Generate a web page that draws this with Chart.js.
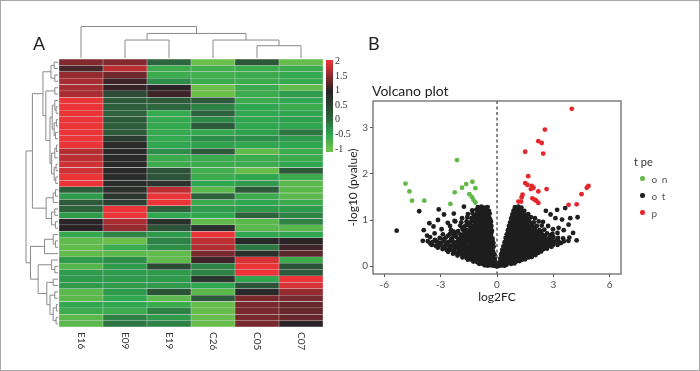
<!DOCTYPE html>
<html>
<head>
<meta charset="utf-8">
<script src="https://cdn.jsdelivr.net/npm/chart.js@4.4.1/dist/chart.umd.min.js"></script>
<style>
html, body { margin: 0; padding: 0; background: #fff; }
#fig { position: relative; width: 700px; height: 371px; overflow: hidden; font-family: Lato, 'Open Sans', sans-serif; }
#frame { position: absolute; left: 0; top: 0; width: 700px; height: 371px; box-sizing: border-box; border: 1px solid #a8a8a8; }
canvas { position: absolute; }
.txt { position: absolute; white-space: nowrap; color: #222; }
#legend { position: absolute; left: 634px; top: 154px; color: #333; }
#legend .ttl { font-size: 11px; height: 16px; line-height: 16px; }
#legend .it { height: 17px; display: flex; align-items: center; }
#legend .dot { width: 4.5px; height: 4.5px; border-radius: 50%; margin-left: 6px; }
#legend .lab { margin-left: 7px; font-size: 10px; letter-spacing: 1px; color: #555; }
</style>
</head>
<body>
<div id="fig">
  <canvas id="heat" width="340" height="371" style="left:0;top:0"></canvas>
  <canvas id="cbar" width="37" height="110" style="left:326px;top:50px"></canvas>
  <canvas id="volcano" width="295" height="216" style="left:330px;top:90px"></canvas>
  <div class="txt" style="left:33px;top:32px;font-size:18px">A</div>
  <div class="txt" style="left:368px;top:32px;font-size:18px">B</div>
  <div class="txt" style="left:372px;top:82px;font-size:14px">Volcano plot</div>
  <div id="legend"></div>
  <div id="frame"></div>
</div>
<script>
// heatmap: one array per sample, rows top to bottom
var samples = ['E16', 'E09', 'E19', 'C26', 'C05', 'C07'];
var e16 = [1.45,1.15,1.55,1.65,1.65,1.65,2,2,2,2,2,2,2,2,1.7,1.75,1.85,1.85,2,2,0.15,-0.4,0.2,0.1,-0.4,1.0,1.0,-0.55,-0.9,-0.9,-0.9,-0.4,-0.8,-0.4,-0.4,-0.4,-0.85,-0.85,-0.5,-0.6,-0.85,-0.85];
var e09 = [1.45,1.75,1.35,1.1,1.05,0.4,0.2,0.15,0.1,0.2,0.15,0.2,0.6,0.9,0.9,0.9,0.9,0.9,0.85,0.85,0.8,0.7,0.55,2,2,1.65,1.55,-0.2,-1.0,-0.6,-0.85,-0.3,-0.4,-0.4,-0.4,-0.4,-0.4,-0.5,-0.5,-0.6,-0.2,-0.1];
var e19 = [0.05,-0.6,-0.6,-0.3,1.0,1.1,0.2,0.05,-0.55,-0.55,-0.55,-0.55,-0.55,-0.5,-0.3,-0.6,-0.6,0.3,0.3,0.75,1.75,2,2,0.1,-0.5,0.8,0.3,-0.4,-0.2,-0.3,-0.9,-0.9,0.4,-0.4,-0.4,-0.4,0.3,-0.85,-0.6,-0.2,-0.4,-0.2];
var c26 = [-1.0,-0.65,-0.65,-0.6,-1.0,-1.0,0.2,-0.2,0.1,-0.25,0.2,-0.55,-0.3,-0.45,0.2,-0.6,-0.6,-0.65,-0.6,-0.5,-0.85,0.1,-0.6,-0.4,-0.5,-0.9,0.8,2,1.75,1.7,1.4,1.1,-0.2,-0.2,0.7,-0.5,-0.85,0.2,-0.95,-0.95,-0.95,-0.95];
var c05 = [0.25,-0.6,-0.6,-0.6,-0.6,-0.6,-0.6,-0.5,-0.5,-0.5,-0.5,-0.45,-0.3,-0.5,-0.9,-0.6,-0.6,-0.95,-0.5,-0.4,0.2,-0.6,-0.5,-0.4,0.1,-0.85,-0.85,-0.5,0.9,-0.1,0.8,1.9,2,2,-0.5,0.3,0.9,1.4,1.4,1.4,1.4,1.4];
var c07 = [-0.95,-0.6,-0.55,-0.55,-0.9,-0.4,-0.5,-0.6,-0.5,-0.45,-0.5,-0.1,-0.4,-0.5,-0.6,-0.6,-0.5,0.2,-0.6,-0.85,-0.85,-0.85,-0.6,-0.4,-0.2,-0.2,-0.85,-0.5,1.0,1.1,1.25,-0.6,0.3,0.2,2,1.9,1.55,1.4,1.3,1.3,1.3,1.0];
var columns = [e16, e09, e19, c26, c05, c07];

// colour key
var scaleValues = [-1, -0.5, 0, 0.5, 1, 1.5, 2];
var scaleColors = ['#6dbf4b', '#2fa64f', '#2d6a3f', '#2b4333', '#2a2327', '#8c2a2f', '#ea3438'];

// dendrograms: [height, left, right], leaves are row / column indexes
var colTree = [1, 0, [0.78, [0.57, 1, 2], [0.57, 3, [0.39, 4, 5]]]];
var rowTree = [1,
  [0.8,
    [0.47,
      [0.22, [0.12, 0, 1], [0.1, 2, 3]],
      [0.38, [0.1, 4, 5],
        [0.25,
          [0.18, [0.1, 6, [0.06, 7, 8]], [0.12, [0.05, 9, 10], [0.08, 11, 12]]],
          [0.2, [0.1, [0.05, 13, 14], 15], [0.12, [0.06, 16, 17], [0.07, 18, 19]]]]]],
    [0.37, [0.15, [0.08, 20, 21], 22], [0.2, [0.1, 23, 24], [0.08, 25, 26]]]],
  [0.86,
    [0.42, [0.15, 27, [0.08, 28, 29]], 30],
    [0.62, [0.2, 31, [0.1, 32, 33]],
      [0.35, [0.15, 34, 35], [0.25, [0.1, 36, 37], [0.15, [0.05, 38, 39], [0.06, 40, 41]]]]]]];

// volcano plot
var typeTitle = 't pe';
var typeLabels = ['o n', 'o t', 'p'];
var typeColors = ['#62b94a', '#1e1e1e', '#e5262c'];
var xTicks = [-6, -3, 0, 3, 6];
var yTicks = [0, 1, 2, 3];
var downPts = [[-4.87,1.79],[-4.66,1.62],[-4.52,1.42],[-3.87,1.42],[-2.13,2.30],[-2.25,1.60],[-2.48,1.35],[-1.86,1.70],
  [-1.64,1.78],[-1.31,1.83],[-1.15,1.69],[-1.47,1.56],[-1.34,1.50],[-1.26,1.44],[-1.15,1.38]];
var upPts = [[3.98,3.41],[2.55,2.96],[2.20,2.71],[2.38,2.67],[2.46,2.44],[1.50,2.48],[1.66,1.95],[1.50,1.80],[1.62,1.76],
  [1.85,1.74],[1.94,1.70],[1.80,1.67],[2.20,1.62],[2.64,1.67],[1.36,1.55],[1.31,1.49],[1.14,1.40],[1.28,1.40],[1.88,1.47],
  [2.01,1.44],[2.09,1.42],[2.20,1.37],[3.81,1.33],[4.24,1.34],[4.50,1.56],[4.78,1.70],[4.87,1.74]];
var notPts = [
  // left arm
  [-0.66,0.02],[-0.49,0.01],[-0.33,0.02],[-0.18,0.01],[-0.05,0.0],[0.05,0.0],
  [-0.95,0.05],[-0.78,0.05],[-0.6,0.04],[-0.43,0.05],[-0.27,0.04],[-0.12,0.04],
  [-1.26,0.10],[-1.06,0.09],[-0.87,0.10],[-0.69,0.08],[-0.52,0.09],[-0.36,0.08],[-0.21,0.09],[-0.08,0.07],
  [-1.55,0.14],[-1.35,0.14],[-1.16,0.13],[-0.97,0.14],[-0.78,0.14],[-0.6,0.13],[-0.43,0.14],[-0.27,0.13],[-0.13,0.12],
  [-1.84,0.19],[-1.63,0.18],[-1.42,0.19],[-1.22,0.17],[-1.02,0.18],[-0.83,0.19],[-0.64,0.17],[-0.46,0.18],[-0.29,0.17],[-0.12,0.16],
  [-2.1,0.23],[-1.8,0.22],[-1.59,0.23],[-1.38,0.22],[-1.18,0.23],[-0.98,0.22],[-0.78,0.23],[-0.58,0.22],[-0.4,0.23],[-0.22,0.21],
  [-2.34,0.27],[-2.12,0.28],[-1.9,0.26],[-1.69,0.27],[-1.49,0.28],[-1.28,0.26],[-1.08,0.27],[-0.88,0.28],[-0.68,0.26],[-0.49,0.27],[-0.31,0.26],[-0.13,0.25],
  [-2.6,0.31],[-2.3,0.32],[-2.0,0.31],[-1.78,0.32],[-1.58,0.31],[-1.38,0.32],[-1.18,0.31],[-0.98,0.32],[-0.78,0.31],[-0.58,0.32],[-0.39,0.31],[-0.2,0.3],
  [-2.9,0.37],[-2.68,0.35],[-2.47,0.36],[-2.26,0.37],[-2.05,0.35],[-1.84,0.36],[-1.63,0.37],[-1.42,0.35],[-1.21,0.36],[-1.0,0.37],[-0.8,0.35],[-0.6,0.36],[-0.41,0.35],[-0.23,0.34],
  [-3.15,0.4],[-2.8,0.41],[-2.5,0.4],[-2.15,0.41],[-1.95,0.4],[-1.74,0.41],[-1.53,0.4],[-1.32,0.41],[-1.11,0.4],[-0.9,0.41],[-0.7,0.4],[-0.5,0.41],[-0.3,0.39],
  [-3.47,0.46],[-3.26,0.44],[-3.05,0.45],[-2.84,0.43],[-2.63,0.45],[-2.42,0.44],[-2.21,0.43],[-2.0,0.45],[-1.79,0.44],[-1.58,0.43],[-1.37,0.45],[-1.16,0.44],[-0.95,0.43],[-0.75,0.45],[-0.55,0.44],[-0.36,0.43],[-0.18,0.42],
  [-3.55,0.49],[-3.1,0.5],[-2.7,0.49],[-2.3,0.5],[-2.05,0.49],[-1.84,0.5],[-1.63,0.49],[-1.42,0.5],[-1.21,0.49],[-1.0,0.5],[-0.8,0.49],[-0.6,0.5],[-0.42,0.49],[-0.26,0.47],
  [-3.68,0.54],[-3.44,0.52],[-3.2,0.53],[-2.98,0.51],[-2.78,0.53],[-2.57,0.52],[-2.36,0.54],[-2.15,0.52],[-1.94,0.53],[-1.73,0.52],[-1.52,0.54],[-1.31,0.52],[-1.1,0.53],[-0.9,0.52],[-0.7,0.54],[-0.5,0.52],[-0.32,0.53],[-0.19,0.5],
  [-3.3,0.57],[-2.85,0.58],[-2.45,0.57],[-2.05,0.58],[-1.83,0.57],[-1.62,0.58],[-1.41,0.57],[-1.2,0.58],[-1.0,0.57],[-0.8,0.58],[-0.6,0.57],[-0.4,0.58],[-0.25,0.56],
  [-3.56,0.63],[-3.05,0.61],[-2.72,0.62],[-2.4,0.6],[-2.16,0.63],[-1.92,0.61],[-1.7,0.62],[-1.48,0.6],[-1.26,0.63],[-1.05,0.61],[-0.84,0.62],[-0.64,0.6],[-0.44,0.62],[-0.24,0.6],
  [-2.6,0.66],[-2.28,0.67],[-1.85,0.66],[-1.6,0.67],[-1.38,0.66],[-1.16,0.67],[-0.95,0.66],[-0.75,0.67],[-0.55,0.66],[-0.35,0.65],
  [-3.32,0.71],[-2.88,0.69],[-2.5,0.7],[-2.18,0.72],[-1.95,0.69],[-1.74,0.71],[-1.53,0.7],[-1.32,0.69],[-1.11,0.71],[-0.9,0.7],[-0.7,0.69],[-0.5,0.71],[-0.32,0.68],
  [-2.3,0.75],[-1.7,0.75],[-1.45,0.74],[-1.24,0.75],[-1.02,0.74],[-0.82,0.75],[-0.62,0.74],[-0.44,0.75],[-0.3,0.73],
  [-2.95,0.8],[-2.45,0.78],[-2.07,0.76],[-1.82,0.79],[-1.6,0.78],[-1.39,0.8],[-1.18,0.78],[-0.97,0.79],[-0.77,0.8],[-0.58,0.78],[-0.4,0.79],[-0.27,0.77],
  [-1.85,0.83],[-1.38,0.83],[-1.15,0.84],[-0.93,0.83],[-0.72,0.84],[-0.52,0.83],[-0.35,0.82],
  [-2.5,0.87],[-1.96,0.88],[-1.72,0.86],[-1.5,0.88],[-1.29,0.87],[-1.08,0.89],[-0.88,0.87],[-0.68,0.88],[-0.48,0.86],[-0.3,0.87],
  [-1.6,0.92],[-1.18,0.92],[-0.98,0.91],[-0.76,0.92],[-0.56,0.91],[-0.38,0.92],
  [-2.22,0.97],[-1.9,0.95],[-1.62,0.97],[-1.42,0.95],[-1.22,0.97],[-1.02,0.96],[-0.82,0.95],[-0.62,0.97],[-0.45,0.95],[-0.32,0.96],
  [-1.3,1.0],[-1.08,1.01],[-0.87,1.0],[-0.66,1.01],[-0.48,1.0],[-0.35,0.99],
  [-1.86,1.04],[-1.58,1.06],[-1.36,1.04],[-1.15,1.05],[-0.95,1.06],[-0.75,1.04],[-0.55,1.05],[-0.38,1.03],
  [-1.2,1.09],[-0.98,1.09],[-0.8,1.08],[-0.6,1.09],[-0.45,1.08],
  [-1.55,1.13],[-1.3,1.14],[-1.1,1.12],[-0.9,1.14],[-0.71,1.13],[-0.53,1.12],[-0.39,1.14],
  [-1.0,1.17],[-0.8,1.17],[-0.6,1.16],[-0.46,1.17],
  [-1.32,1.21],[-1.1,1.22],[-0.9,1.2],[-0.71,1.22],[-0.54,1.21],[-0.43,1.2],
  [-0.92,1.25],[-0.72,1.25],[-0.56,1.24],
  [-1.02,1.28],[-0.83,1.29],[-0.65,1.27],[-0.5,1.28],
  [-5.34,0.77],[-4.14,1.19],[-3.1,1.23],[-2.82,1.12],[-1.76,1.29],[-3.6,0.93],[-3.38,0.86],[-3.14,1.0],[-2.26,0.98],
  [-3.9,0.78],[-3.72,0.66],[-2.62,0.94],[-2.3,1.14],[-3.95,0.55],
  // right arm
  [0.14,0.01],[0.27,0.02],[0.4,0.01],[0.5,0.03],
  [0.2,0.05],[0.36,0.05],[0.55,0.06],[0.75,0.05],[0.92,0.06],
  [0.13,0.08],[0.3,0.09],[0.48,0.1],[0.66,0.08],[0.84,0.09],[1.02,0.1],[1.2,0.11],
  [0.2,0.14],[0.4,0.14],[0.58,0.13],[0.76,0.14],[0.95,0.14],[1.14,0.13],[1.33,0.14],[1.5,0.15],
  [0.18,0.17],[0.36,0.18],[0.55,0.19],[0.74,0.17],[0.93,0.18],[1.12,0.19],[1.31,0.17],[1.5,0.18],[1.68,0.19],[1.84,0.2],
  [0.26,0.23],[0.46,0.22],[0.66,0.23],[0.86,0.22],[1.06,0.23],[1.26,0.22],[1.46,0.23],[1.66,0.22],[1.86,0.23],[2.05,0.24],
  [0.22,0.26],[0.42,0.27],[0.62,0.28],[0.82,0.26],[1.02,0.27],[1.22,0.28],[1.42,0.26],[1.62,0.27],[1.82,0.28],[2.02,0.27],[2.2,0.29],
  [0.3,0.31],[0.5,0.32],[0.72,0.31],[0.92,0.32],[1.12,0.31],[1.32,0.32],[1.52,0.31],[1.72,0.32],[1.92,0.31],[2.12,0.32],[2.35,0.32],
  [0.28,0.35],[0.48,0.36],[0.68,0.37],[0.88,0.35],[1.08,0.36],[1.28,0.37],[1.48,0.35],[1.68,0.36],[1.88,0.37],[2.08,0.35],[2.28,0.36],[2.47,0.37],[2.66,0.38],
  [0.38,0.4],[0.58,0.41],[0.78,0.4],[0.98,0.41],[1.18,0.4],[1.38,0.41],[1.58,0.4],[1.78,0.41],[1.98,0.4],[2.18,0.41],[2.4,0.4],[2.62,0.41],[2.9,0.42],
  [0.34,0.43],[0.54,0.44],[0.74,0.45],[0.94,0.43],[1.14,0.44],[1.34,0.45],[1.54,0.43],[1.74,0.44],[1.94,0.45],[2.14,0.43],[2.34,0.44],[2.55,0.45],[2.76,0.44],[2.98,0.46],[3.22,0.46],
  [0.44,0.49],[0.64,0.48],[0.84,0.49],[1.04,0.48],[1.24,0.49],[1.44,0.48],[1.64,0.49],[1.84,0.48],[2.04,0.49],[2.26,0.48],[2.5,0.49],[2.74,0.48],[3.0,0.49],[3.4,0.5],
  [0.4,0.52],[0.6,0.53],[0.8,0.54],[1.0,0.52],[1.2,0.53],[1.4,0.54],[1.6,0.52],[1.8,0.53],[2.0,0.54],[2.2,0.52],[2.4,0.53],[2.6,0.54],[2.82,0.52],[3.05,0.53],[3.3,0.52],[3.56,0.54],[3.8,0.55],
  [0.5,0.57],[0.7,0.58],[0.9,0.57],[1.1,0.58],[1.3,0.57],[1.5,0.58],[1.7,0.57],[1.9,0.58],[2.12,0.57],[2.36,0.58],[2.6,0.57],[2.9,0.58],[3.2,0.57],
  [0.46,0.61],[0.66,0.62],[0.86,0.63],[1.06,0.61],[1.26,0.62],[1.46,0.63],[1.66,0.61],[1.86,0.62],[2.06,0.63],[2.28,0.61],[2.5,0.62],[2.74,0.6],[3.0,0.63],[3.25,0.61],[3.52,0.6],
  [0.56,0.66],[0.76,0.66],[0.96,0.67],[1.16,0.66],[1.36,0.67],[1.56,0.66],[1.76,0.67],[1.98,0.66],[2.22,0.67],[2.55,0.66],[2.85,0.67],
  [0.52,0.69],[0.72,0.7],[0.92,0.71],[1.12,0.69],[1.32,0.7],[1.52,0.71],[1.72,0.69],[1.93,0.7],[2.15,0.72],[2.4,0.69],[2.66,0.71],[2.95,0.7],[3.22,0.72],
  [0.62,0.75],[0.82,0.74],[1.02,0.75],[1.22,0.74],[1.42,0.75],[1.62,0.74],[1.86,0.75],[2.1,0.74],[2.35,0.75],
  [0.58,0.78],[0.78,0.79],[0.98,0.8],[1.18,0.78],[1.38,0.79],[1.58,0.8],[1.8,0.78],[2.02,0.8],[2.26,0.78],[2.52,0.79],[2.98,0.8],
  [0.66,0.83],[0.88,0.83],[1.08,0.84],[1.28,0.83],[1.5,0.84],[1.72,0.83],[1.95,0.84],
  [0.64,0.87],[0.84,0.88],[1.04,0.89],[1.24,0.87],[1.44,0.88],[1.66,0.87],[1.88,0.89],[2.12,0.87],[2.38,0.88],[2.72,0.87],
  [0.72,0.92],[0.94,0.92],[1.16,0.91],[1.38,0.92],[1.6,0.91],[1.85,0.92],
  [0.7,0.95],[0.9,0.96],[1.1,0.97],[1.3,0.95],[1.5,0.96],[1.72,0.97],[1.96,0.95],[2.22,0.97],[2.45,0.96],
  [0.78,1.0],[1.0,1.01],[1.2,1.0],[1.44,1.01],[1.68,1.0],
  [0.76,1.04],[0.96,1.05],[1.16,1.06],[1.37,1.04],[1.58,1.05],[1.8,1.06],[2.02,1.04],
  [0.84,1.09],[1.06,1.09],[1.28,1.08],[1.5,1.09],
  [0.82,1.12],[1.02,1.13],[1.22,1.14],[1.43,1.12],[1.66,1.13],
  [0.9,1.17],[1.1,1.17],[1.3,1.16],
  [0.88,1.2],[1.07,1.21],[1.27,1.22],[1.45,1.2],
  [0.95,1.25],[1.15,1.25],
  [0.96,1.28],[1.14,1.29],[1.3,1.27],
  [4.24,0.56],[4.29,1.06],[3.63,1.26],[3.2,1.22],[3.11,1.04],[3.46,1.01],[3.9,1.04],[3.28,0.83],[3.81,0.9],
  [2.85,1.12],[2.6,1.2],[3.55,0.78],[4.05,0.72],[3.85,0.62]
];

function hex2rgb(h) {
  return [1, 3, 5].map(function (i) { return parseInt(h.substr(i, 2), 16) })
}
function heatColor(v) {
  var n = scaleValues.length
  v = Math.max(scaleValues[0], Math.min(scaleValues[n - 1], v))
  for (var i = 1; i < n; i++) {
    if (v <= scaleValues[i]) {
      var t = (v - scaleValues[i - 1]) / (scaleValues[i] - scaleValues[i - 1])
      var a = hex2rgb(scaleColors[i - 1]), b = hex2rgb(scaleColors[i])
      return 'rgb(' + a.map(function (c, k) { return Math.round(c + (b[k] - c) * t) }).join(',') + ')'
    }
  }
}

// draws a dendrogram, returns [position, height] of the node
function drawTree(ctx, node, leafPos, hPos, horiz) {
  if (typeof node === 'number') return [leafPos(node), 0]
  var A = drawTree(ctx, node[1], leafPos, hPos, horiz)
  var B = drawTree(ctx, node[2], leafPos, hPos, horiz)
  var hp = hPos(node[0])
  ctx.beginPath()
  if (horiz) {
    ctx.moveTo(hPos(A[1]), A[0]); ctx.lineTo(hp, A[0]); ctx.lineTo(hp, B[0]); ctx.lineTo(hPos(B[1]), B[0])
  } else {
    ctx.moveTo(A[0], hPos(A[1])); ctx.lineTo(A[0], hp); ctx.lineTo(B[0], hp); ctx.lineTo(B[0], hPos(B[1]))
  }
  ctx.stroke()
  return [(A[0] + B[0]) / 2, node[0]]
}

var dendroPlugin = {
  id: 'dendro',
  afterDraw: function (chart) {
    var ctx = chart.ctx, a = chart.chartArea, x = chart.scales.x, y = chart.scales.y
    ctx.save()
    ctx.strokeStyle = '#8a8a8a'
    ctx.lineWidth = 1
    drawTree(ctx, colTree, function (i) { return x.getPixelForValue(i) }, function (h) { return a.top - 1 - h * 31.5 }, false)
    drawTree(ctx, rowTree, function (i) { return y.getPixelForValue(i + 0.5) }, function (h) { return a.left - 1 - h * 32 }, true)
    // column labels, reading downwards
    ctx.fillStyle = '#333'
    ctx.font = '10px Lato'
    ctx.textBaseline = 'middle'
    ctx.textAlign = 'left'
    samples.forEach(function (s, i) {
      ctx.save()
      ctx.translate(x.getPixelForValue(i), a.bottom + 5)
      ctx.rotate(Math.PI / 2)
      ctx.fillText(s, 0, 0)
      ctx.restore()
    })
    ctx.restore()
  }
}

//heatmap
var rowsN = e16.length
var heatSets = []
for (var r = 0; r < rowsN; r++) {
  heatSets.push({
    data: samples.map(function () { return 1 }),
    backgroundColor: columns.map(function (c) { return heatColor(c[r]) }),
    borderColor: 'rgba(205,205,205,0.45)',
    borderWidth: 0.5,
    borderSkipped: false,
    barPercentage: 1,
    categoryPercentage: 1
  })
}
new Chart(document.getElementById('heat'), {
  type: 'bar',
  data: { labels: samples, datasets: heatSets },
  options: {
    responsive: false,
    animation: false,
    layout: { padding: { left: 59, top: 59, right: 17, bottom: 44 } },
    plugins: { legend: { display: false }, tooltip: { enabled: false } },
    scales: {
      x: { stacked: true, display: false },
      y: { stacked: true, display: false, reverse: true, min: 0, max: rowsN }
    }
  },
  plugins: [dendroPlugin]
})

//colour key
new Chart(document.getElementById('cbar'), {
  type: 'bar',
  data: {
    labels: [''],
    datasets: [{
      data: [[-1.1, 2.05]],
      backgroundColor: function (c) {
        var ch = c.chart
        if (!ch.chartArea) return scaleColors[0]
        var ys = ch.scales.y, n = scaleValues.length
        var y0 = ys.getPixelForValue(scaleValues[0]), y1 = ys.getPixelForValue(scaleValues[n - 1])
        var g = ch.ctx.createLinearGradient(0, y0, 0, y1)
        scaleColors.forEach(function (col, i) { g.addColorStop(i / (n - 1), col) })
        return g
      },
      borderWidth: 0,
      barPercentage: 1,
      categoryPercentage: 1
    }]
  },
  options: {
    responsive: false,
    animation: false,
    layout: { padding: { top: 10, bottom: 4, left: 0, right: 0 } },
    plugins: { legend: { display: false }, tooltip: { enabled: false } },
    scales: {
      x: { display: false },
      y: {
        position: 'right', min: -1.1, max: 2.05,
        afterFit: function (s) { s.width = 30 },
        afterBuildTicks: function (s) { s.ticks = scaleValues.map(function (v) { return { value: v } }) },
        grid: { display: false, drawTicks: false },
        border: { display: false },
        ticks: { padding: 2, color: '#333', font: { family: 'Liberation Serif', size: 10 }, callback: function (v) { return String(v) } }
      }
    }
  }
})

//volcano
var panelPlugin = {
  id: 'panel',
  beforeDatasetsDraw: function (chart) {
    var ctx = chart.ctx, a = chart.chartArea
    var px = chart.scales.x.getPixelForValue(0)
    ctx.save()
    ctx.setLineDash([3, 2.5])
    ctx.strokeStyle = '#111'
    ctx.lineWidth = 1
    ctx.beginPath()
    ctx.moveTo(px, a.top)
    ctx.lineTo(px, a.bottom)
    ctx.stroke()
    ctx.restore()
  },
  afterDraw: function (chart) {
    var ctx = chart.ctx, a = chart.chartArea
    ctx.save()
    ctx.strokeStyle = '#6b6b6b'
    ctx.lineWidth = 1.3
    ctx.strokeRect(a.left, a.top, a.right - a.left, a.bottom - a.top)
    ctx.restore()
  }
}
function toXY(list) { return list.map(function (p) { return { x: p[0], y: p[1] } }) }
var tickFont = { family: 'Lato', size: 10 }
new Chart(document.getElementById('volcano'), {
  type: 'scatter',
  data: {
    datasets: [downPts, notPts, upPts].map(function (pts, i) {
      return { label: typeLabels[i], data: toXY(pts), backgroundColor: typeColors[i], pointBorderWidth: 0, pointRadius: 2.4 }
    })
  },
  options: {
    responsive: false,
    animation: false,
    layout: { padding: { left: 5, right: 2, top: 11, bottom: 2 } },
    plugins: { legend: { display: false }, tooltip: { enabled: false } },
    scales: {
      x: {
        min: -6.6, max: 6.6,
        afterBuildTicks: function (s) { s.ticks = xTicks.map(function (v) { return { value: v } }) },
        afterFit: function (s) { s.height = 30 },
        grid: { drawOnChartArea: false, tickLength: 3, color: '#555' },
        border: { display: false },
        ticks: { padding: 2, color: '#4d4d4d', font: tickFont, maxRotation: 0 },
        title: { display: true, text: 'log2FC', padding: 0, color: '#222', font: { family: 'Lato', size: 12 } }
      },
      y: {
        min: -0.17, max: 3.58,
        afterBuildTicks: function (s) { s.ticks = yTicks.map(function (v) { return { value: v } }) },
        afterFit: function (s) { s.width = 38 },
        grid: { drawOnChartArea: false, tickLength: 3, color: '#555' },
        border: { display: false },
        ticks: { padding: 2, color: '#4d4d4d', font: tickFont },
        title: { display: true, text: '-log10 (pvalue)', padding: { top: 11, bottom: 0 }, color: '#222', font: { family: 'Lato', size: 12 } }
      }
    }
  },
  plugins: [panelPlugin]
})

// legend
var leg = document.getElementById('legend')
leg.innerHTML = '<div class="ttl">' + typeTitle + '</div>' + typeLabels.map(function (t, i) {
  return '<div class="it"><span class="dot" style="background:' + typeColors[i] + '"></span><span class="lab">' + t + '</span></div>'
}).join('')
</script>
</body>
</html>
